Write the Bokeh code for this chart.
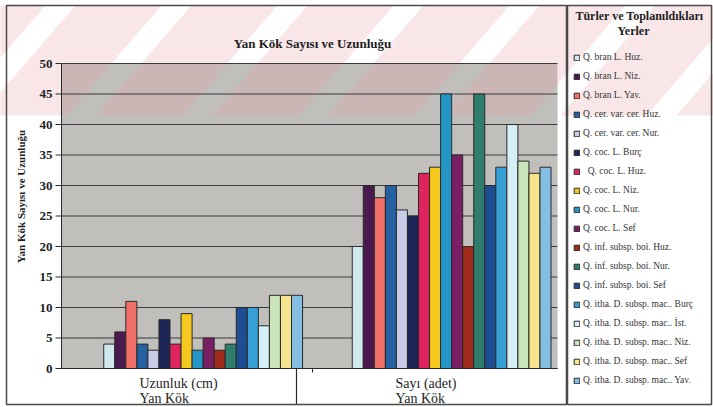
import math

from bokeh.core.properties import value
from bokeh.embed import file_html
from bokeh.models import ColumnDataSource, Label, Legend, LegendItem, Range1d
from bokeh.plotting import figure
from bokeh.resources import INLINE

# ---- data -------------------------------------------------------------
categories = ["Uzunluk (cm)", "Sayı (adet)"]
category_sub = "Yan Kök"

species = [
    "Q. bran L. Huz.",
    "Q. bran L. Niz.",
    "Q. bran L. Yav.",
    "Q. cer. var. cer. Huz.",
    "Q. cer. var. cer. Nur.",
    "Q. coc. L. Burç",
    "\u00a0\u00a0Q. coc. L. Huz.",
    "Q. coc. L. Niz.",
    "Q. coc. L. Nur.",
    "Q. coc. L. Sef",
    "Q. inf. subsp. boi. Huz.",
    "Q. inf. subsp. boi. Nur.",
    "Q. inf. subsp. boi. Sef",
    "Q. itha. D. subsp. mac.. Burç",
    "Q. itha. D. subsp. mac.. İst.",
    "Q. itha. D. subsp. mac.. Niz.",
    "Q. itha. D. subsp. mac.. Sef",
    "Q. itha. D. subsp. mac.. Yav.",
]

uzunluk = [4, 6, 11, 4, 3, 8, 4, 9, 3, 5, 3, 4, 10, 10, 7, 12, 12, 12]
sayi = [20, 30, 28, 30, 26, 25, 32, 33, 45, 35, 20, 45, 30, 33, 40, 34, 32, 33]

colors = [
    "#cfe9ee", "#4a1a4e", "#f2706a", "#2560a0", "#c9cbe9", "#1b2556",
    "#e0245e", "#f4c81e", "#2396c6", "#7a1f64", "#a02a1a", "#2f7d6c",
    "#1d4e92", "#359fd6", "#d6eef6", "#c9e5b9", "#f6e58e", "#84bfe3",
]

y_ticks = [0, 5, 10, 15, 20, 25, 30, 35, 40, 45, 50]

title_text = "Yan Kök Sayısı ve Uzunluğu"
y_label = "Yan Kök Sayısı ve Uzunluğu"
legend_title = ["Türler ve Toplanıldıkları", "Yerler"]

# ---- layout -----------------------------------------------------------
W, H = 713, 407
PX_X = 248.5          # pixels per category unit
PX_Y = 6.1            # pixels per value unit
PLOT_X0, PLOT_X1 = -0.070, 1.926      # value-area extent along x
Y_MIN, Y_MAX = 0, 50
X_START = PLOT_X0 - 61 / PX_X
X_END = X_START + W / PX_X
Y_END = Y_MAX + 63 / PX_Y
Y_START = Y_END - H / PX_Y

SERIF = "Liberation Serif"
INK = "#1e1e1e"
LINE = "#2a2a2a"


def X(px):
    """page x (pixels from left) -> data x"""
    return X_START + px / PX_X


def Y(py):
    """page y (pixels from top) -> data y"""
    return Y_END - py / PX_Y


def sx(px):
    return px


def sy(py):
    return H - py


group_centers = [0.5, 1.5]
group_fill = 0.8
bar_w = group_fill / len(species)

p = figure(
    width=W, height=H,
    x_range=Range1d(X_START, X_END), y_range=Range1d(Y_START, Y_END),
    output_backend="svg", toolbar_location=None,
    x_axis_location=None, y_axis_location=None, title_location=None,
    min_border=0, border_fill_color="white", background_fill_color="white",
    outline_line_color=None,
)
p.grid.visible = False

# value area
p.quad(left=[PLOT_X0], right=[PLOT_X1], bottom=[Y_MIN], top=[Y_MAX],
       fill_color="#c0bfbb", line_color=None)

# faint diagonal stripes across the upper band of the page
band_top, band_bottom, shift = 5, 115, -95
wm_xs, wm_ys = [], []
for k in range(-1, 7):
    x0 = 75 + 116 * k
    x1 = x0 + 86
    wm_xs.append([X(x0), X(x1), X(x1 + shift), X(x0 + shift)])
    wm_ys.append([Y(band_top), Y(band_top), Y(band_bottom), Y(band_bottom)])
p.patches(xs=wm_xs, ys=wm_ys, fill_color="#e8a0a8", fill_alpha=0.26, line_color=None)

# horizontal grid lines
p.segment(x0=[PLOT_X0] * len(y_ticks), x1=[PLOT_X1] * len(y_ticks),
          y0=y_ticks, y1=y_ticks, line_color="#3a3a3a", line_width=1)

# bars
items = []
n = len(species)
for i, (name, col) in enumerate(zip(species, colors)):
    xs = [c + (i - (n - 1) / 2) * bar_w for c in group_centers]
    src = ColumnDataSource(dict(x=xs, top=[uzunluk[i], sayi[i]]))
    r = p.vbar(x="x", top="top", bottom=0, width=bar_w, source=src,
               fill_color=col, line_color=LINE, line_width=1)
    items.append(LegendItem(label=name, renderers=[r]))

# y axis: line, ticks and labels
tick_len = 6 / PX_X
p.segment(x0=[PLOT_X0], x1=[PLOT_X0], y0=[Y_MIN], y1=[Y_MAX], line_color=LINE, line_width=1)
p.segment(x0=[PLOT_X0 - tick_len] * len(y_ticks), x1=[PLOT_X0] * len(y_ticks),
          y0=y_ticks, y1=y_ticks, line_color=LINE, line_width=1)
p.text(x=[PLOT_X0 - 9 / PX_X] * len(y_ticks), y=y_ticks, text=[str(t) for t in y_ticks],
       text_align="right", text_baseline="middle", text_font=value(SERIF),
       text_font_style="bold", text_font_size="13px", text_color=INK)

# x axis line, boundary tick and category label divider
p.segment(x0=[PLOT_X0], x1=[PLOT_X1], y0=[Y_MIN], y1=[Y_MIN], line_color=LINE, line_width=1)
p.segment(x0=[X(312)], x1=[X(312)], y0=[Y_MIN], y1=[Y(372)], line_color=LINE, line_width=1)
p.segment(x0=[X(296)], x1=[X(296)], y0=[Y_MIN], y1=[Y(404)], line_color=LINE, line_width=1.2)

# outer frames: chart area and legend area
p.quad(left=[X(6), X(567)], right=[X(566), X(711)], bottom=[Y(404)] * 2, top=[Y(5)] * 2,
       fill_alpha=0, line_color="#4a4a4a", line_width=1.5)

# texts
p.add_layout(Label(x=sx(312), y=sy(43), x_units="screen", y_units="screen",
                   text=title_text, text_align="center", text_baseline="middle",
                   text_font=SERIF, text_font_style="bold", text_font_size="13px",
                   text_color=INK))
p.add_layout(Label(x=sx(20), y=sy(196), x_units="screen", y_units="screen",
                   text=y_label, angle=math.pi / 2, text_align="center",
                   text_baseline="middle", text_font=SERIF, text_font_style="bold",
                   text_font_size="11px", text_color=INK))

for cx, cat in zip([139, 395], categories):
    for cy, txt in zip([383, 398], [cat, category_sub]):
        p.add_layout(Label(x=sx(cx), y=sy(cy), x_units="screen", y_units="screen",
                           text=txt, text_align="left", text_baseline="middle",
                           text_font=SERIF, text_font_size="14px", text_color=INK))

for (cx, cy), txt in zip([(639, 15), (633, 30)], legend_title):
    p.add_layout(Label(x=sx(cx), y=sy(cy), x_units="screen", y_units="screen",
                       text=txt, text_align="center", text_baseline="middle",
                       text_font=SERIF, text_font_style="bold", text_font_size="12px",
                       text_color=INK))

# legend
legend = Legend(
    items=items, location=(sx(573), sy(385)),
    glyph_width=7, glyph_height=7, label_height=10, spacing=9,
    label_standoff=3, padding=8, margin=0,
    label_text_font=SERIF, label_text_font_size="9.5px", label_text_color="#333333",
    background_fill_alpha=0, border_line_color=None,
)
p.add_layout(legend)

open("out.html", "w").write(file_html(p, INLINE))
